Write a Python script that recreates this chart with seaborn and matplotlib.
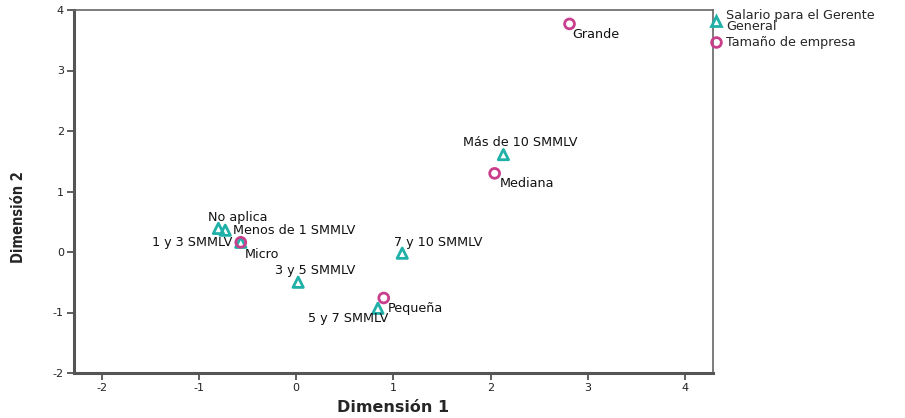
import pandas as pd
import matplotlib
matplotlib.use("Agg")
import matplotlib.pyplot as plt
from matplotlib.lines import Line2D
import seaborn as sns

# salario del gerente general (triangulos)
salario_labels = ["Más de 10 SMMLV", "No aplica", "Menos de 1 SMMLV", "1 y 3 SMMLV",
                  "3 y 5 SMMLV", "5 y 7 SMMLV", "7 y 10 SMMLV"]
salario_dim1 = [2.13, -0.80, -0.73, -0.57, 0.02, 0.84, 1.09]
salario_dim2 = [1.61, 0.39, 0.36, 0.16, -0.50, -0.93, -0.02]

# tamano de empresa (circulos)
tamano_labels = ["Grande", "Mediana", "Micro", "Pequeña"]
tamano_dim1 = [2.81, 2.04, -0.57, 0.90]
tamano_dim2 = [3.77, 1.30, 0.16, -0.76]

legend_names = ["Salario para el Gerente\nGeneral", "Tamaño de empresa"]

teal = "#1fb0a8"
pink = "#c93f8c"

dfS = pd.DataFrame({"dim1": salario_dim1, "dim2": salario_dim2, "label": salario_labels})
dfT = pd.DataFrame({"dim1": tamano_dim1, "dim2": tamano_dim2, "label": tamano_labels})

sns.set_style("white")
plt.rcParams["font.family"] = ["DejaVu Sans"]
plt.rcParams["axes.unicode_minus"] = False

fig = plt.figure(figsize=(9.05, 4.18), dpi=100)
ax = fig.add_axes([73.5 / 905, 1 - 373 / 418, (712.5 - 73.5) / 905, (373 - 10) / 418])

sns.scatterplot(data=dfS, x="dim1", y="dim2", marker="^", s=55, fc="none", ec=teal,
                linewidth=2, legend=False, ax=ax, zorder=3)
sns.scatterplot(data=dfT, x="dim1", y="dim2", marker="o", s=50, fc="none", ec=pink,
                linewidth=2, legend=False, ax=ax, zorder=4)

# label offsets in pixels (dx, dy up) and alignment
offs = {
    "Más de 10 SMMLV": (17, 12, "center"),
    "No aplica": (19, 11, "center"),
    "Menos de 1 SMMLV": (8, 0, "left"),
    "1 y 3 SMMLV": (-8, 0, "right"),
    "3 y 5 SMMLV": (17, 12, "center"),
    "5 y 7 SMMLV": (10, -10, "right"),
    "7 y 10 SMMLV": (36, 11, "center"),
    "Grande": (3, -11, "left"),
    "Mediana": (5, -10, "left"),
    "Micro": (4, -12, "left"),
    "Pequeña": (4, -11, "left"),
}
for d in (dfS, dfT):
    for _, r in d.iterrows():
        dx, dy, ha = offs[r["label"]]
        ax.annotate(r["label"], (r["dim1"], r["dim2"]), xytext=(dx * 0.72, dy * 0.72),
                    textcoords="offset points", ha=ha, va="center", fontsize=9.2,
                    color="#111111")

ax.set_xlim(-2.29, 4.28)
ax.set_ylim(-2, 4)
ax.set_xticks([-2, -1, 0, 1, 2, 3, 4])
ax.set_yticks([-2, -1, 0, 1, 2, 3, 4])
ax.tick_params(axis="both", direction="out", length=5, width=1.2, color="#444444",
               labelsize=8, labelcolor="#222222", pad=2, bottom=True, left=True)
for side in ["left", "bottom"]:
    ax.spines[side].set_linewidth(2.2)
    ax.spines[side].set_color("#555555")
for side in ["top", "right"]:
    ax.spines[side].set_linewidth(1.2)
    ax.spines[side].set_color("#666666")

ax.set_xlabel("Dimensión 1", fontsize=11.5, fontweight="bold", va="center")
ax.xaxis.set_label_coords(0.5, (373 - 408) / 363)
ax.set_ylabel("Dimensión 2", fontsize=10.5, fontweight="bold", fontstretch="condensed",
              va="center")
ax.yaxis.set_label_coords((19 - 73.5) / 639, (373 - 217) / 363)

handles = [Line2D([], [], ls="none", marker="^", ms=7, mfc="none", mec=teal, mew=2),
           Line2D([], [], ls="none", marker="o", ms=7, mfc="none", mec=pink, mew=2)]
leg = fig.legend(handles, legend_names, loc="upper left", bbox_to_anchor=(711 / 905, 1 - 9 / 418),
                 frameon=False, fontsize=9.2, handlelength=0.8, handletextpad=0.4,
                 borderpad=0, borderaxespad=0, labelspacing=0.3)
for t in leg.get_texts():
    t.set_linespacing(0.75)

plt.savefig("out.png", dpi=100)
